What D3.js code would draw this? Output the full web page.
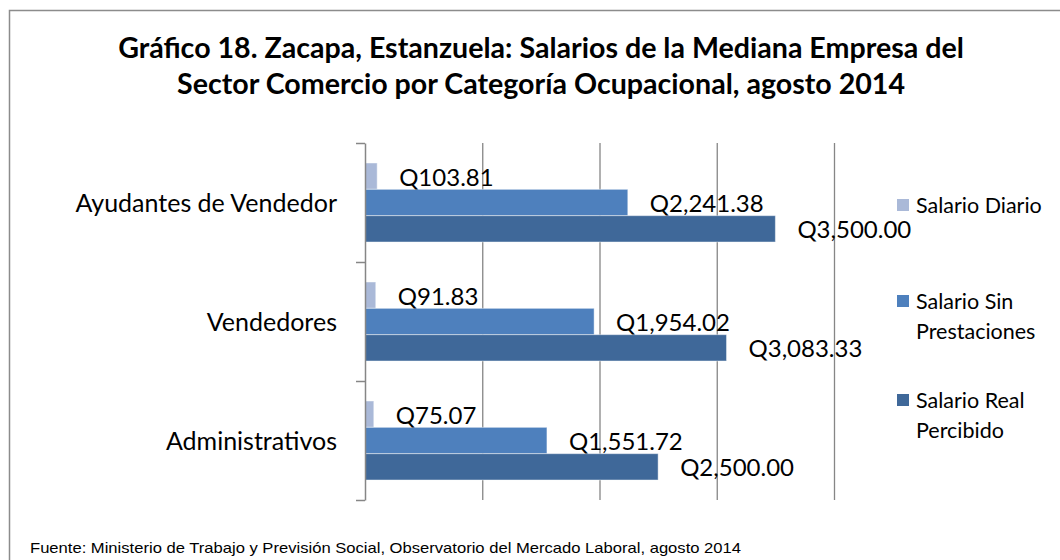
<!DOCTYPE html>
<html>
<head>
<meta charset="utf-8">
<script src="https://d3js.org/d3.v7.min.js"></script>
<style>
  body { margin: 0; background: #fff; }
  svg { display: block; }
  .lbl { font-family: Lato, "Open Sans", sans-serif; fill: #000; }
</style>
</head>
<body>
<svg width="1060" height="560"></svg>
<script>
// data
var categories = ["Ayudantes de Vendedor", "Vendedores", "Administrativos"];
var series = ["Salario Diario", "Salario Sin Prestaciones", "Salario Real Percibido"];
var salarioDiario = [103.81, 91.83, 75.07];
var salarioSinPrestaciones = [2241.38, 1954.02, 1551.72];
var salarioReal = [3500.00, 3083.33, 2500.00];
var gridTicks = [1000, 2000, 3000, 4000];
var titleLines = [
  "Gráfico 18. Zacapa, Estanzuela: Salarios de la Mediana Empresa del",
  "Sector Comercio por Categoría Ocupacional, agosto 2014"
];
var source = "Fuente: Ministerio de Trabajo y Previsión Social, Observatorio del Mercado Laboral, agosto 2014";

var colors = ["#aab9d8", "#4e80bd", "#3f6899"];
var legendLines = [["Salario Diario"], ["Salario Sin", "Prestaciones"], ["Salario Real", "Percibido"]];

var values = [salarioDiario, salarioSinPrestaciones, salarioReal];
var rows = categories.map(function(c, i) {
  return { cat: c, vals: series.map(function(s, j) { return { s: s, j: j, v: values[j][i] }; }) };
});

var svg = d3.select("svg");

// outer frame (top and left edges visible)
svg.append("path")
    .attr("d", "M9.5,560V10.5H1060")
    .attr("fill", "none")
    .attr("stroke", "#8c8c8c")
    .attr("stroke-width", 1.5);

var plotTop = 143, plotBottom = 500, plotLeft = 365, plotRight = 834;

var x = d3.scaleLinear().domain([0, 4000]).range([plotLeft, plotRight]);
var y = d3.scaleBand().domain(categories).range([plotTop, plotBottom]);
var yInner = d3.scaleBand().domain(series)
    .range([y.bandwidth() * 0.168, y.bandwidth() * 0.832]);

// gridlines
var grid = svg.append("g")
    .attr("transform", "translate(0," + plotBottom + ")")
    .call(d3.axisBottom(x).tickValues(gridTicks).tickSize(-(plotBottom - plotTop)).tickFormat(""));
grid.select(".domain").remove();
grid.selectAll(".tick line").attr("stroke", "#868686").attr("stroke-width", 1.3);

// bars
var groups = svg.selectAll(".grp")
  .data(rows)
  .enter().append("g")
    .attr("class", "grp")
    .attr("transform", function(d) { return "translate(0," + y(d.cat) + ")"; });

groups.selectAll("rect")
  .data(function(d) { return d.vals; })
  .enter().append("rect")
    .attr("x", x(0))
    .attr("y", function(d) { return yInner(d.s); })
    .attr("width", function(d) { return x(d.v) - x(0); })
    .attr("height", yInner.bandwidth())
    .attr("fill", function(d) { return colors[d.j]; })
    .attr("stroke", "#ffffff")
    .attr("stroke-opacity", 0.45)
    .attr("stroke-width", 1);

// category axis with ticks between the categories
var yb = d3.scaleLinear().domain([0, categories.length]).range([plotTop, plotBottom]);
var yAxis = svg.append("g")
    .attr("transform", "translate(" + plotLeft + ",0)")
    .call(d3.axisLeft(yb).tickValues(d3.range(categories.length + 1)).tickSize(9).tickSizeOuter(0).tickFormat(""));
yAxis.selectAll("line, path").attr("stroke", "#868686").attr("stroke-width", 1.5);

// data labels
var fmt = d3.format(",.2f");
groups.selectAll(".val")
  .data(function(d) { return d.vals; })
  .enter().append("text")
    .attr("class", "lbl val")
    .attr("x", function(d) { return x(d.v) + 22; })
    .attr("y", function(d) { return yInner(d.s) + yInner.bandwidth() / 2 + 1; })
    .attr("dy", "0.36em")
    .attr("font-size", 24)
    .text(function(d) { return "Q" + fmt(d.v); });

// category labels
svg.selectAll(".cat")
  .data(categories)
  .enter().append("text")
    .attr("class", "lbl cat")
    .attr("x", 337)
    .attr("y", function(d) { return y(d) + y.bandwidth() / 2; })
    .attr("dy", "0.36em")
    .attr("text-anchor", "end")
    .attr("font-size", 25)
    .text(function(d) { return d; });

// title
svg.selectAll(".title")
  .data(titleLines)
  .enter().append("text")
    .attr("class", "lbl title")
    .attr("x", 541)
    .attr("y", function(d, i) { return 58 + i * 36; })
    .attr("text-anchor", "middle")
    .attr("font-size", 28.6)
    .attr("font-weight", "bold")
    .text(function(d) { return d; });

// legend
var legendY = [205, 301, 400];
var leg = svg.selectAll(".leg")
  .data(legendLines)
  .enter().append("g")
    .attr("class", "leg")
    .attr("transform", function(d, i) { return "translate(897," + legendY[i] + ")"; });

leg.append("rect")
    .attr("x", 0)
    .attr("y", -6)
    .attr("width", 12)
    .attr("height", 12)
    .attr("fill", function(d, i) { return colors[i]; });

leg.selectAll("text")
  .data(function(d) { return d; })
  .enter().append("text")
    .attr("class", "lbl")
    .attr("x", 19)
    .attr("y", function(d, i) { return i * 30; })
    .attr("dy", "0.36em")
    .attr("font-size", 21.5)
    .text(function(d) { return d; });

// source note
svg.append("text")
    .attr("x", 30)
    .attr("y", 553)
    .attr("font-family", "'Liberation Sans Narrow', 'Arial Narrow', sans-serif")
    .attr("font-size", 15)
    .attr("textLength", 711)
    .attr("lengthAdjust", "spacingAndGlyphs")
    .attr("fill", "#000")
    .text(source);
</script>
</body>
</html>
